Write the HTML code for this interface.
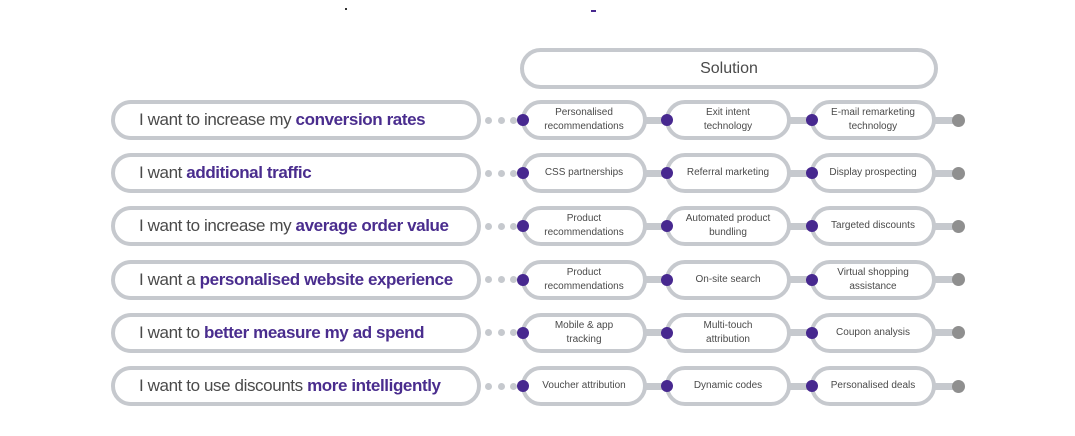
<!DOCTYPE html>
<html><head><style>
body{margin:0;width:1075px;height:436px;background:#fff;position:relative;overflow:hidden;font-family:"Liberation Sans",sans-serif;}
.p{position:absolute;box-sizing:border-box;border:4px solid #c6c9ce;border-radius:22px;background:#fff;color:#4a4a4a;}
.l{left:111px;width:370px;height:40px;padding-left:24px;font-size:17px;letter-spacing:-0.4px;line-height:32px;white-space:nowrap;}
.l b{color:#4a2d8e;}
.s{width:126px;height:40px;display:flex;align-items:center;justify-content:center;text-align:center;font-size:10px;line-height:14px;z-index:2;}
.bar{position:absolute;height:7px;background:#c6c9ce;z-index:1;}
.d{position:absolute;width:12px;height:12px;border-radius:50%;background:#47288f;z-index:3;}
.g{position:absolute;width:13px;height:13px;border-radius:50%;background:#8f8f8f;z-index:3;}
.sd{position:absolute;width:7px;height:7px;border-radius:50%;background:#c6c9ce;}
</style></head><body>
<div class="p" style="left:520px;top:48px;width:418px;height:41px;text-align:center;line-height:33px;font-size:16px;">Solution</div>
<div style="position:absolute;left:345px;top:8px;width:2px;height:2px;background:#333"></div>
<div style="position:absolute;left:591px;top:10px;width:5px;height:2px;background:#47288f"></div>
<div id="rows"></div>
<script>
var rows=[
["I want to increase my <b>conversion rates</b>","Personalised<br>recommendations","Exit intent<br>technology","E-mail remarketing<br>technology"],
["I want <b>additional traffic</b>","CSS partnerships","Referral marketing","Display prospecting"],
["I want to increase my <b>average order value</b>","Product<br>recommendations","Automated product<br>bundling","Targeted discounts"],
["I want a <b>personalised website experience</b>","Product<br>recommendations","On-site search","Virtual shopping<br>assistance"],
["I want to <b>better measure my ad spend</b>","Mobile &amp; app<br>tracking","Multi-touch<br>attribution","Coupon analysis"],
["I want to use discounts <b>more intelligently</b>","Voucher attribution","Dynamic codes","Personalised deals"]];
var h="";
rows.forEach(function(r,i){
var c=120+i*53.2,t=c-20;
h+='<div class="p l" style="top:'+t+'px">'+r[0]+'</div>';
h+='<div class="sd" style="left:485px;top:'+(c-3.5)+'px"></div><div class="sd" style="left:498px;top:'+(c-3.5)+'px"></div><div class="sd" style="left:510px;top:'+(c-3.5)+'px"></div>';
h+='<div class="bar" style="left:640px;width:30px;top:'+(c-3.5)+'px"></div><div class="bar" style="left:785px;width:30px;top:'+(c-3.5)+'px"></div><div class="bar" style="left:930px;width:25px;top:'+(c-3.5)+'px"></div>';
[521,665,810].forEach(function(x,j){
h+='<div class="p s" style="left:'+x+'px;top:'+t+'px">'+r[j+1]+'</div>';
h+='<div class="d" style="left:'+(x-4)+'px;top:'+(c-6)+'px"></div>';});
h+='<div class="g" style="left:952px;top:'+(c-6.5)+'px"></div>';
});
document.getElementById("rows").innerHTML=h;
</script>
</body></html>
